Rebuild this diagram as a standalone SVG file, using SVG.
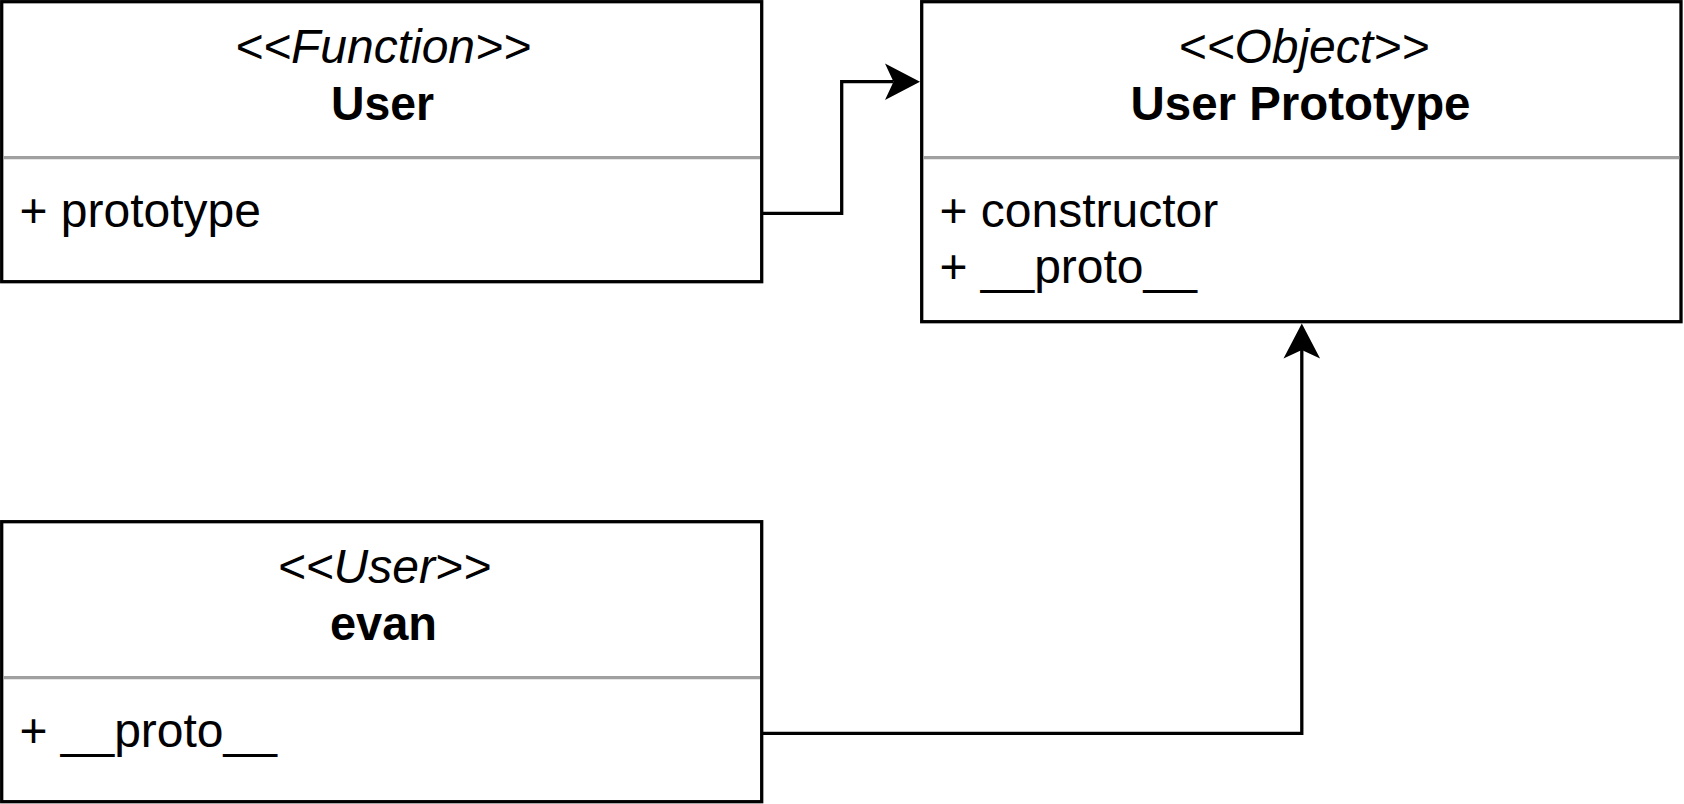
<svg xmlns="http://www.w3.org/2000/svg" width="1684" height="804" viewBox="0 0 1684 804">
<defs>
<style>
.box{fill:#ffffff;stroke:#000000;stroke-width:3.3}
.div{stroke:#a0a0a0;stroke-width:3.3}
.t{font-family:"Liberation Sans",Arial,Helvetica,sans-serif;font-size:48px;fill:#000000}
.st{font-style:italic;text-anchor:middle}
.nm{font-weight:bold;text-anchor:middle}
.edge{fill:none;stroke:#000000;stroke-width:3.3}
</style>
<marker id="arrow" viewBox="0 0 35 36.6" markerWidth="35" markerHeight="36.6" refX="8.5" refY="18.3" markerUnits="userSpaceOnUse" orient="auto" overflow="visible">
<path d="M35,18.3 L0,0 L8.5,18.3 L0,36.6 Z" fill="#000000"/>
</marker>
</defs>
<rect width="1684" height="804" fill="#ffffff"/>
<g id="connectors">
<path class="edge" d="M761.7,213.3 H841.7 V81.7 H893.5" marker-end="url(#arrow)"/>
<path class="edge" d="M761.7,733.3 H1301.8 V350" marker-end="url(#arrow)"/>
</g>
<g id="node-user">
<rect class="box" x="1.7" y="1.7" width="760" height="280"/>
<line class="div" x1="3.3" y1="157.7" x2="760" y2="157.7"/>
<text class="t st" x="383" y="63.3">&lt;&lt;Function&gt;&gt;</text>
<text class="t nm" x="382.5" y="120" textLength="103" lengthAdjust="spacingAndGlyphs">User</text>
<text class="t" x="19.4" y="227.3">+ prototype</text>
</g>
<g id="node-user-prototype">
<rect class="box" x="921.7" y="1.7" width="759.3" height="320"/>
<line class="div" x1="923.3" y1="157.7" x2="1679.4" y2="157.7"/>
<text class="t st" x="1303.8" y="63.3">&lt;&lt;Object&gt;&gt;</text>
<text class="t nm" x="1300.5" y="120" textLength="340" lengthAdjust="spacingAndGlyphs">User Prototype</text>
<text class="t" x="939.4" y="226.7">+ constructor</text>
<text class="t" x="939.4" y="283.3">+ __proto__</text>
</g>
<g id="node-evan">
<rect class="box" x="1.7" y="521.7" width="760" height="280"/>
<line class="div" x1="3.3" y1="677.7" x2="760" y2="677.7"/>
<text class="t st" x="384.2" y="583.3">&lt;&lt;User&gt;&gt;</text>
<text class="t nm" x="383.5" y="640" textLength="107" lengthAdjust="spacingAndGlyphs">evan</text>
<text class="t" x="19.4" y="747.3">+ __proto__</text>
</g>
</svg>
